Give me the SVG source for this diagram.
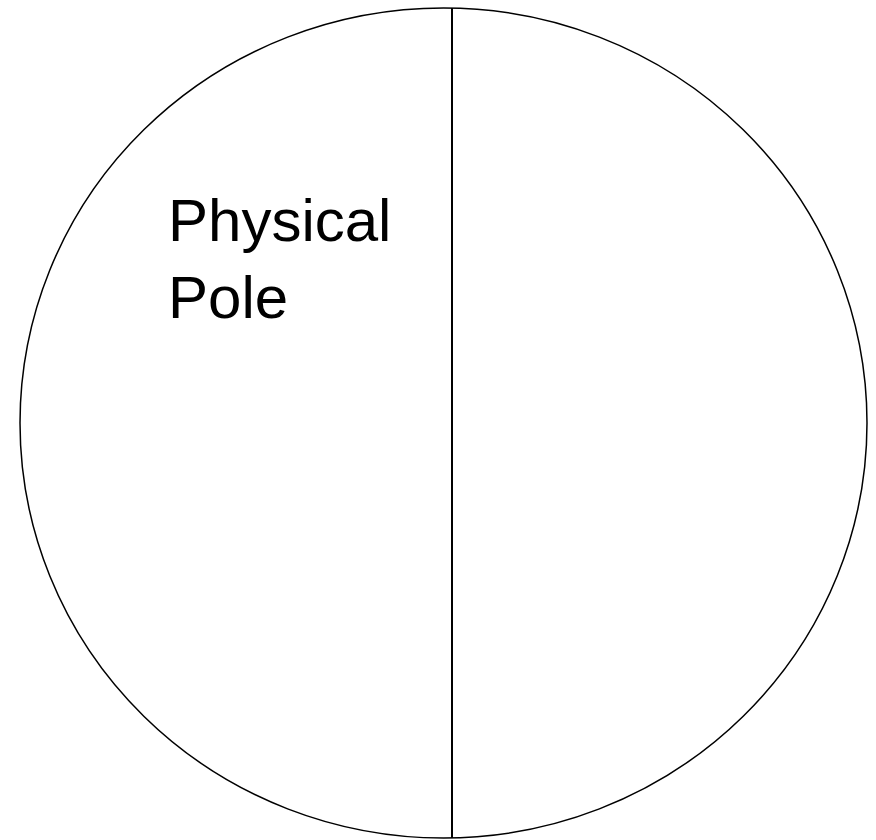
<svg xmlns="http://www.w3.org/2000/svg" width="876" height="840" viewBox="0 0 876 840">
<style>
.outline{fill:#fff;stroke:#000;stroke-width:1.5}
.divider{stroke:#000;stroke-width:2}
.label{font-family:"Liberation Sans",Arial,sans-serif;font-size:60px;fill:#000}
</style>
<rect width="876" height="840" fill="#fff"/>
<g id="circle">
<ellipse class="outline" cx="443.5" cy="423" rx="423.5" ry="415"/>
</g>
<g id="connectors">
<line class="divider" x1="452" y1="8" x2="452" y2="838"/>
</g>
<g id="label-physical-pole">
<text class="label" x="168" y="241">Physical</text>
<text class="label" x="168" y="318">Pole</text>
</g>
</svg>
